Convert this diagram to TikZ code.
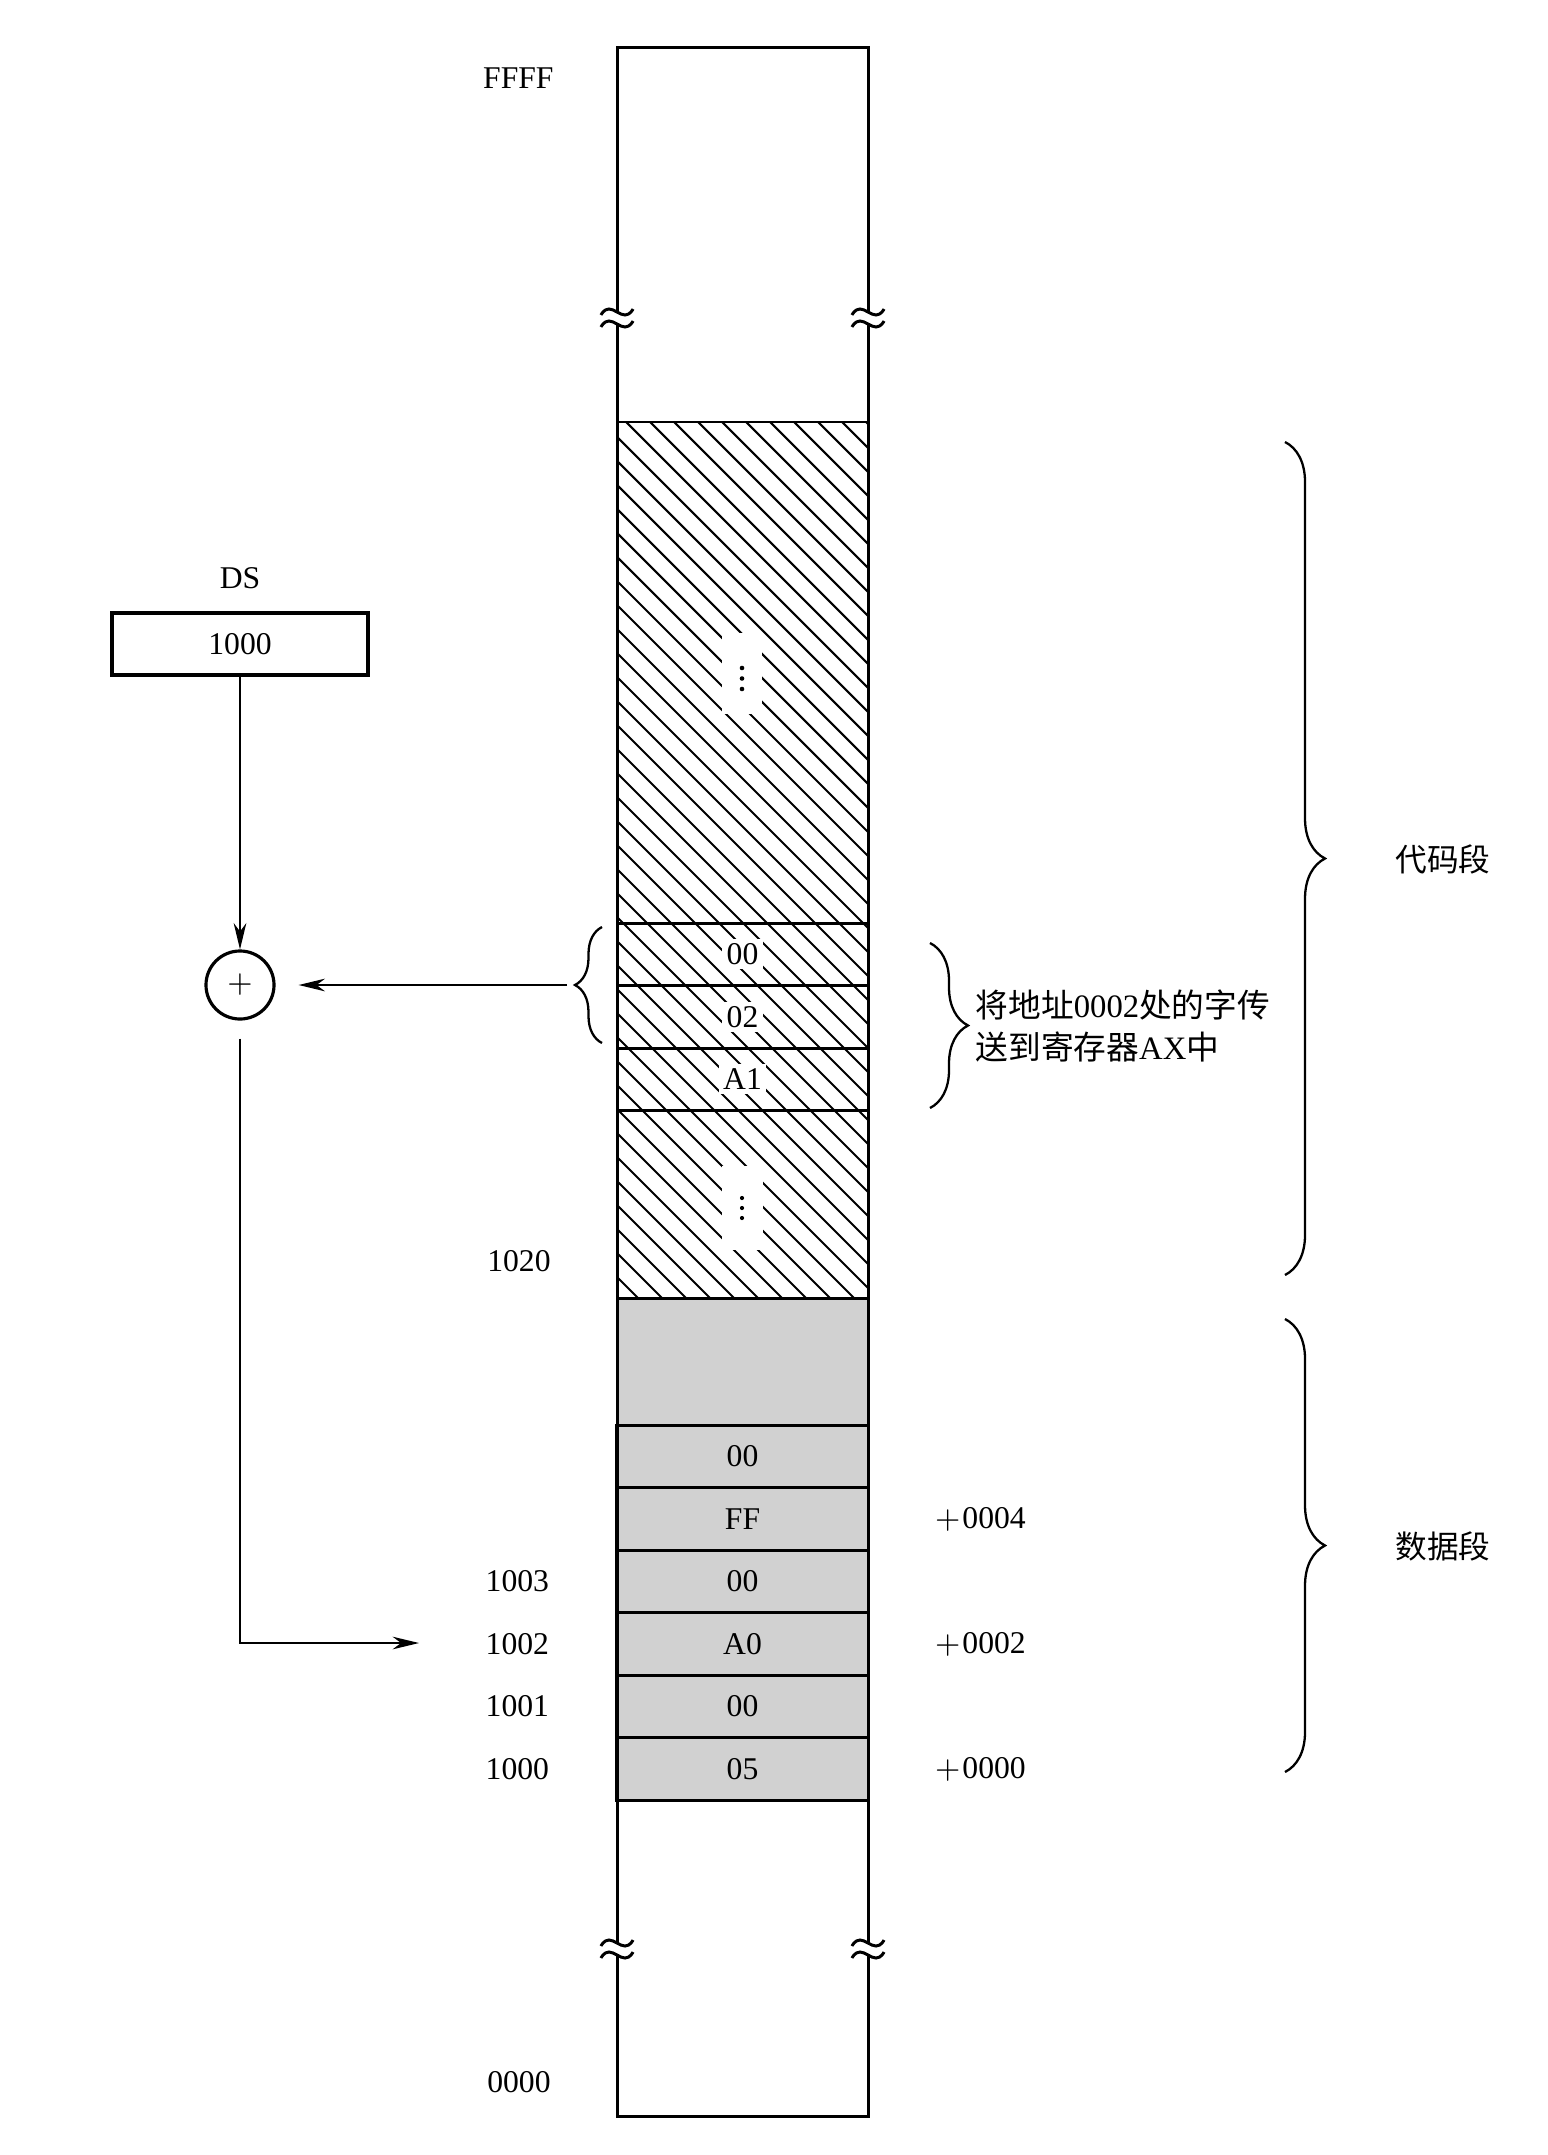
\documentclass[tikz,border=0pt]{standalone}
\usepackage{fontspec}
\setmainfont{Liberation Serif}
\newfontfamily\cjk{Noto Sans CJK SC}
\usetikzlibrary{arrows.meta,decorations.pathreplacing,positioning}

\newcommand\lbl{\fontsize{9}{11}\selectfont}
% une vague de la marque de coupure
\newcommand\wave[2]{\draw[line width=0.85pt] plot[smooth, tension=0.8] coordinates {(#1-16,#2+3) (#1-8,#2-3) (#1+8,#2+3) (#1+16,#2-3)};}
% coupure sur les deux bords de la colonne
\newcommand\cutmark[1]{%
  \foreach \xx in {617,868} {
    \fill[white] (\xx-3,#1-6) rectangle (\xx+3,#1+6);
    \wave{\xx}{#1-6}
    \wave{\xx}{#1+6}
  }%
}

\tikzset{
  memline/.style={line width=0.85pt},
  hatchline/.style={line width=0.6pt},
  cell/.style={draw, memline, fill=black!18, minimum width=2.51cm, minimum height=0.625cm, inner sep=0pt},
  hcell/.style={fill=white, inner sep=1.2pt},
  addr/.style={anchor=east},
  offs/.style={anchor=west},
  segbrace/.style={decorate, decoration={brace, amplitude=#1}, line width=0.65pt},
  flow/.style={line width=0.55pt}
}

\begin{document}
\begin{tikzpicture}[x=0.01cm, y=-0.01cm, font=\lbl, >={Stealth[length=7.5pt,width=3.6pt,inset=2.4pt]}]
  \useasboundingbox (0,0) rectangle (1547,2155);

  % ==========================================
  % SEGMENT DE CODE (hachuré)
  % ==========================================
  \begin{scope}
    \clip (617,422) rectangle (868,1298);
    \foreach \k in {0,...,47}
      \draw[hatchline] (-262+24*\k,422) -- ++(900,900);
  \end{scope}

  % trous blancs pour les points de suspension
  \fill[white] (722,633) rectangle (762,714);
  \fill[white] (722,1166) rectangle (763,1250);
  \foreach \d in {0,1,2} {
    \fill (742,668+10.5*\d) circle (2.3);
    \fill (742,1198+10*\d) circle (2.1);
  }

  % les trois octets de l'instruction
  \foreach \yy in {422,923,985.5,1048,1110.5}
    \draw[memline] (617,\yy) -- (868,\yy);
  \node[hcell] (i0) at (742.5,954) {00};
  \node[hcell] (i1) at (742.5,1017) {02};
  \node[hcell] (i2) at (742.5,1079) {A1};

  % ==========================================
  % SEGMENT DE DONNÉES (gris)
  % ==========================================
  \fill[black!18] (617,1298) rectangle (868,1800);
  \draw[memline] (617,1298) -- (868,1298);
  \foreach \v [count=\i from 0] in {05,00,A0,00,FF,00}
    \node[cell] (m\i) at (742.5,1769-62.5*\i) {\v};

  % Contour de la mémoire et coupures
  \draw[memline] (617,48) rectangle (868,2116);
  \cutmark{318}
  \cutmark{1949}

  % Adresses à gauche
  \node[addr] (aFFFF) at (566,78) {FFFF};
  \node[addr] (a1020) at (563,1261) {1020};
  \node[addr, left=0.54cm of m3] (a1003) {1003};
  \node[addr, left=0.54cm of m2] (a1002) {1002};
  \node[addr, left=0.54cm of m1] (a1001) {1001};
  \node[addr, left=0.54cm of m0] (a1000) {1000};
  \node[addr] (a0000) at (563,2082) {0000};

  % Déplacements à droite
  \node[offs, right=0.53cm of m4] (o4) {$+$\kern0.6pt0004};
  \node[offs, right=0.53cm of m2] (o2) {$+$\kern0.6pt0002};
  \node[offs, right=0.53cm of m0] (o0) {$+$\kern0.6pt0000};

  % ==========================================
  % ACCOLADES ET TEXTES
  % ==========================================
  \draw[segbrace=0.4cm] (1285,442) -- (1285,1275);
  \node[font={\cjk\lbl}] (code) at (1443,859) {代码段};
  \draw[segbrace=0.4cm] (1285,1319) -- (1285,1772);
  \node[font={\cjk\lbl}] (data) at (1443,1546) {数据段};

  \draw[segbrace=0.38cm] (930,943) -- (930,1108);
  \node[anchor=west, align=left, inner sep=0pt, font={\fontsize{9.3}{11.7}\selectfont}] (note) at (975,1026)
    {{\cjk 将地址}0002{\cjk 处的字传}\\{\cjk 送到寄存器}AX{\cjk 中}};

  \draw[segbrace=0.27cm] (602,1043) -- (602,927);
  \coordinate (brL) at (567,985);

  % ==========================================
  % REGISTRE DS ET ADDITIONNEUR
  % ==========================================
  \node (dslbl) at (240,578) {DS};
  \node[draw, line width=1.1pt, minimum width=2.55cm, minimum height=0.62cm] (ds) at (240,644) {1000};
  \node[draw, circle, line width=0.9pt, minimum size=0.68cm, inner sep=0pt] (sum) at (240,985) {$+$};
  \coordinate (tgt) at (419,1643);

  \draw[flow,->] (ds) -- (sum);
  \draw[flow,->] (brL) -- ([xshift=0.23cm]sum.east);
  \draw[flow,->] ([yshift=-0.18cm]sum.south) |- (tgt);

\end{tikzpicture}
\end{document}
